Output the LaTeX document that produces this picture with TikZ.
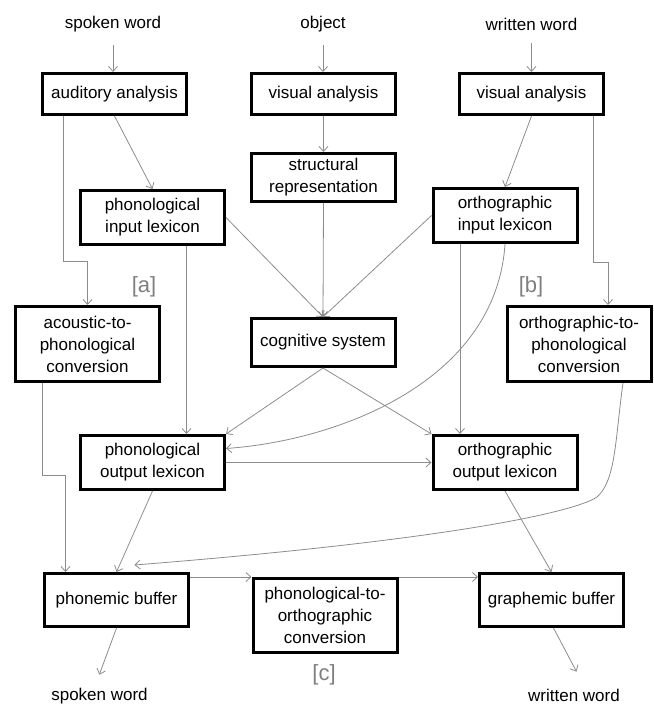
\documentclass[tikz,border=0pt]{standalone}
\usepackage{fontspec}
\setmainfont{Liberation Sans}
\usetikzlibrary{arrows.meta}
\definecolor{LINE}{HTML}{8C8C8C}
\definecolor{TAG}{HTML}{7F7F7F}

\begin{document}
\begin{tikzpicture}[
  x=1pt, y=-1pt,
  font=\fontsize{17}{22}\selectfont,
  box/.style={draw=black, line width=3pt, minimum width=144pt, align=center, inner sep=2pt},
  tag/.style={font=\fontsize{22}{26}\selectfont, text=TAG},
  arr/.style={-{Straight Barb[length=5pt,width=9pt]}, draw=LINE, line width=0.8pt},
  inarr/.style={arr, shorten <=9pt},
  outarr/.style={arr, shorten >=11pt}
]
\useasboundingbox (0,0) rectangle (653,706);

% inputs
\node (spkIn) at (113,24.6) {spoken word};
\node (objIn) at (323,24.6) {object};
\node (wrtIn) at (531.5,24.6) {written word};

% analysis and lexicons
\node[box, minimum height=41pt] (aud) at (114.5,94) {auditory analysis};
\node[box, minimum height=41pt] (visO) at (323.5,94) {visual analysis};
\node[box, minimum height=41pt] (visW) at (531.5,94) {visual analysis};
\node[box, minimum height=48pt] (struc) at (323.5,177.5) {structural\\representation};
\node[box, minimum height=54pt] (pil) at (152.5,217.5) {phonological\\input lexicon};
\node[box, minimum height=54pt] (oil) at (505,215.5) {orthographic\\input lexicon};

\node[tag] (ta) at (144,287) {[a]};
\node[tag] (tb) at (531,287) {[b]};
\node[box, minimum height=75pt] (apc) at (87.5,344) {acoustic-to-\\phonological\\conversion};
\node[box, minimum height=48pt] (cog) at (323,342.5) {cognitive system};
\node[box, minimum height=75pt] (opc) at (579,344) {orthographic-to-\\phonological\\conversion};

\node[box, minimum height=54pt] (pol) at (152.5,462.5) {phonological\\output lexicon};
\node[box, minimum height=54pt] (ool) at (505,462.5) {orthographic\\output lexicon};

% buffers
\node[box, minimum height=53pt] (phb) at (116.5,600) {phonemic buffer};
\node[box, minimum height=74pt] (poc) at (325,615.5) {phonological-to-\\orthographic\\conversion};
\node[box, minimum height=53pt] (grb) at (551.5,600) {graphemic buffer};
\node[tag] (tc) at (324,675) {[c]};

% outputs
\node (spkOut) at (99.5,696.5) {spoken word};
\node (wrtOut) at (574,695.6) {written word};

% input arrows
\draw[inarr] (spkIn.south) -- (spkIn.south |- aud.north);
\draw[inarr] (objIn.south) -- (objIn.south |- visO.north);
\draw[inarr] (wrtIn.south) -- (wrtIn.south |- visW.north);

% auditory route
\draw[arr] (aud.south) -- (pil.north);
\draw[arr] ([xshift=22pt]aud.south west) -- ++(0,145) -| (apc.north);

% object route
\draw[arr] (visO.south) -- (struc.north);
\draw[arr] (struc.south) -- (cog.north);
\draw[arr] (pil.east) -- (cog.north);
\draw[arr] (oil.west) -- (cog.north);

% written route
\draw[arr] (visW.south) -- (oil.north);
\draw[arr] ([xshift=-12pt]visW.south east) -- ++(0,146) -| ([xshift=29pt]opc.north);

% lexical links
\draw[arr] ([xshift=34pt]pil.south) -- ([xshift=34pt]pol.north);
\draw[arr] ([xshift=-45pt]oil.south) -- ([xshift=-45pt]ool.north);
\draw[arr] (oil.south) .. controls +(-9,137) and +(113,-8) .. ([yshift=14pt]pol.east);
\draw[arr] (cog.south) -- (pol.north east);
\draw[arr] (cog.south) -- (ool.north west);
\draw[arr] (pol.east) -- (ool.west);

% into the buffers
\draw[arr] ([xshift=-45pt]apc.south) -- ++(0,92) -| ([xshift=-51pt]phb.north);
\draw[arr] (pol.south) -- (phb.north);
\coordinate (bend) at (597,497);
\draw[arr] ([xshift=44pt]opc.south) .. controls +(-8,57) and +(19,-17) .. (bend)
  .. controls +(-22,15) and +(315,-25) .. ([xshift=18pt,yshift=7pt]phb.north);
\draw[arr] (phb.east |- poc.north west) -- (poc.north west);
\draw[arr] (poc.north east) -- (poc.north east -| grb.west);
\draw[arr] (ool.south) -- (grb.north);

% output arrows
\draw[outarr] (phb.south) -- ([xshift=-4pt]spkOut.north);
\draw[outarr, shorten >=16pt] ([xshift=2pt]grb.south) -- ([xshift=10pt]wrtOut.north);

\end{tikzpicture}
\end{document}
